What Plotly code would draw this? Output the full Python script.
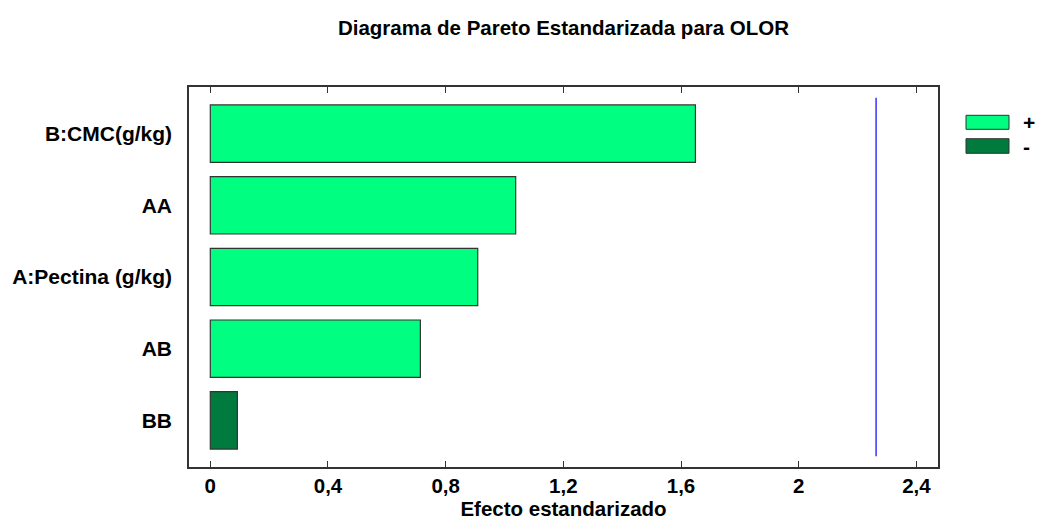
import plotly.graph_objects as go

categories = ["B:CMC(g/kg)", "AA", "A:Pectina (g/kg)", "AB", "BB"]
effects = [1.649, 1.038, 0.909, 0.714, 0.092]
signs = ["+", "+", "+", "+", "-"]
critical_value = 2.263
x_ticks = [0, 0.4, 0.8, 1.2, 1.6, 2.0, 2.4]
x_tick_labels = ["0", "0,4", "0,8", "1,2", "1,6", "2", "2,4"]

POS = "#00FF80"
NEG = "#007A3D"
FONT = "Arial, Liberation Sans, sans-serif"

W, H = 1038, 524
L, R, T, B = 189, 100, 87, 57
pw, ph = W - L - R, H - T - B

ypos = list(range(len(categories)))
colors = [POS if s == "+" else NEG for s in signs]

fig = go.Figure()
fig.add_trace(go.Bar(
    x=effects, y=ypos, orientation="h", width=0.8,
    marker=dict(color=colors, line=dict(color="#333333", width=1.2)),
    showlegend=False, hoverinfo="x+y",
))
fig.add_trace(go.Scatter(
    x=[critical_value, critical_value], y=[-0.5, len(categories) - 0.5],
    mode="lines", line=dict(color="#0000FF", width=1.2), showlegend=False,
))

fig.update_layout(
    width=W, height=H,
    margin=dict(l=L, r=R, t=T, b=B),
    paper_bgcolor="white", plot_bgcolor="white",
    font=dict(family=FONT, color="black"),
    title=dict(text="<b>Diagrama de Pareto Estandarizada para OLOR</b>",
               x=563.5 / W, xanchor="center", y=1 - 28 / H, yanchor="middle",
               font=dict(size=20.5, family=FONT)),
    xaxis=dict(range=[-0.0724, 2.4735], tickvals=x_ticks, automargin=False,
               ticktext=["<b>%s</b>" % t for t in x_tick_labels],
               ticks="inside", ticklen=6, tickcolor="#333333", tickwidth=1,
               showline=True, linecolor="#333333", linewidth=1.5, mirror="allticks",
               showgrid=False, zeroline=False,
               tickfont=dict(size=20.5, family=FONT),
               title=dict(text="<b>Efecto estandarizado</b>", font=dict(size=20.5, family=FONT), standoff=2)),
    yaxis=dict(range=[len(categories) - 1 + 0.65, -0.65], tickvals=ypos, automargin=False,
               ticktext=["<b>%s</b>" % c for c in categories],
               ticks="", showline=True, linecolor="#333333", linewidth=1.5, mirror=True,
               showgrid=False, zeroline=False, ticklabelstandoff=11,
               tickfont=dict(size=21, family=FONT)),
    bargap=0.2,
)

# legend drawn manually (pixel positions in window coordinates)
legend_items = [("+", POS), ("-", NEG)]
boxes = [(115.3, 129.3), (138.7, 153.3)]
plot_left, plot_bottom = L, H - B
for (label, col), (top, bot) in zip(legend_items, boxes):
    fig.add_shape(type="rect", xref="paper", yref="paper",
                  x0=(966 - plot_left) / pw, x1=(1009 - plot_left) / pw,
                  y0=(plot_bottom - bot) / ph, y1=(plot_bottom - top) / ph,
                  fillcolor=col, line=dict(color="#333333", width=1))
    fig.add_annotation(xref="paper", yref="paper", x=(1021 - plot_left) / pw,
                       y=(plot_bottom - (top + bot) / 2) / ph, xanchor="left", yanchor="middle",
                       text="<b>%s</b>" % label, showarrow=False,
                       font=dict(size=21, family=FONT, color="black"))

fig.write_html("out.html", config={"displayModeBar": False},
               post_script="document.body.style.margin='0';document.body.style.overflow='hidden';")
